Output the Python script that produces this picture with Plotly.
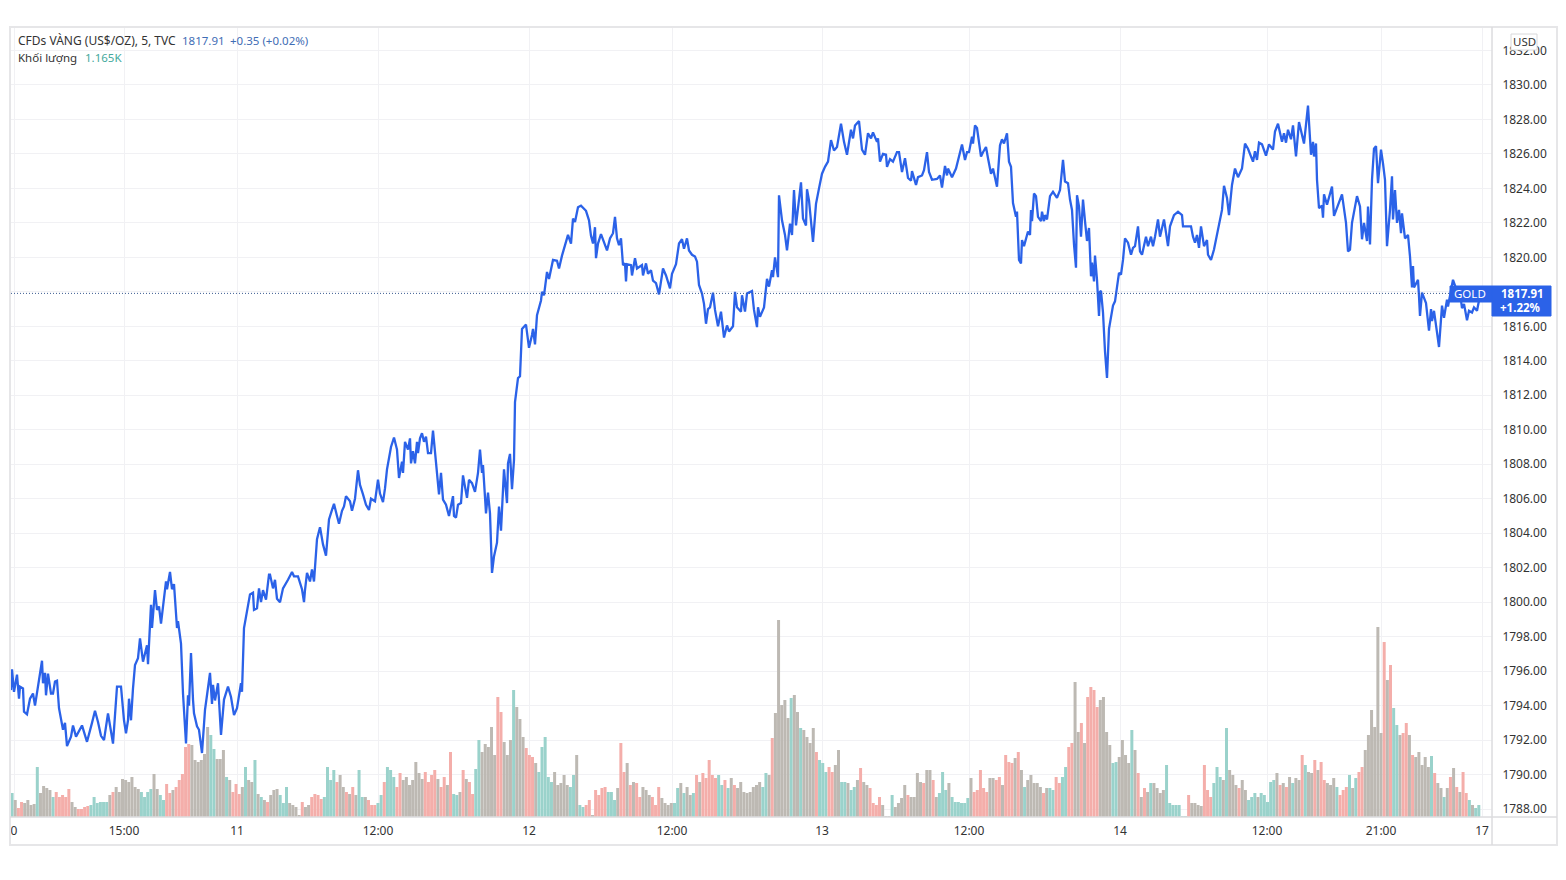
import plotly.graph_objects as go

# bar number on the 5 minute axis, and close price at that bar
bar_index = [
    0,1,3,6,8,9,12,13,16,19,22,24,31,32,34,35,37,40,42,44,46,48,52,54,56,60,62,65,71,76,81,84,87,90,93,97,102,104,106,110,
    113,115,117,118,120,122,124,127,129,132,136,137,140,141,144,146,148,150,155,156,159,161,163,166,167,170,172,175,177,178,
    180,182,183,186,188,191,194,196,199,201,202,204,207,210,213,217,220,223,226,230,231,233,236,239,242,243,246,248,250,252,255,258,
    259,262,264,266,269,272,277,281,283,287,291,293,294,296,299,301,303,306,309,312,315,318,321,323,326,328,331,333,335,339,341,344,
    347,349,352,355,358,360,364,367,369,372,374,376,380,383,386,388,391,392,394,397,399,400,402,404,406,407,409,411,413,415,417,420,
    422,424,427,428,430,432,435,438,442,443,445,447,450,452,456,458,461,464,467,469,471,472,475,477,479,481,483,486,488,490,493,496,
    497,499,501,503,504,507,509,511,515,518,521,522,524,526,530,
    531,533,536,538,542,546,548,551,555,557,560,562,564,567,570,575,578,580,582,584,585,587,590,593,596,599,602,604,606,608,610,612,
    614,615,616,620,621,624,626,631,632,635,637,640,642,645,648,652,655,659,661,665,668,671,673,676,678,681,684,686,688,691,693,695,
    697,699,702,704,707,710,713,716,718,722,724,726,730,731,734,736,741,743,746,747,749,753,756,758,761,762,764,767,768,771,774,776,
    779,781,783,785,790,792,795,796,798,802,805,808,811,814,817,820,823,826,830,833,836,840,842,844,848,851,854,857,860,862,866,867,
    869,872,875,876,879,882,886,888,891,894,897,900,901,905,907,911,913,916,918,921,926,929,931,934,936,937,941,945,951,954,956,958,
    961,962,964,966,970,972,975,977,980,982,986,
    989,991,993,996,998,1000,1002,1005,1006,1008,1010,1011,1013,1017,1019,1020,1021,1023,1025,1027,1030,1031,1033,1034,1036,1039,1042,1046,1049,1051,1052,1054,
    1057,1059,1061,1063,1065,1066,1068,1070,1072,1074,1076,1078,1080,1081,1083,1084,1086,1088,1089,1090,1092,1094,1096,1098,1100,1102,1104,1106,1108,1110,1112,1114,
    1117,1120,1122,1124,1127,1129,1131,1135,1137,1140,1142,1144,1147,1149,1153,1157,1159,1163,1167,1171,1172,1180,1182,1184,1186,1188,1190,1193,1196,1197,1200,1203,
    1206,1208,1211,1213,1216,1218,1220,1221,1224,1227,1231,1234,1237,1242,1244,1246,1248,1251,1255,1258,1262,1264,1267,1271,1273,1275,1277,1280,1282,1285,1288,1293,
    1297,1300,1302,1303,1305,1306,1308,1311,1312,1313,1316,1318,1321,1323,1326,1331,1335,1337,1339,1341,1346,1349,1351,1353,1356,1357,1359,1361,1363,1365,1367,1370,
    1372,1374,1376,1379,1381,1382,1384,1386,1388,1390,1391,1394,1397,1399,1401,1402,1403,1407,1408,1409,1411,1415,1418,1420,1421,1423,1426,1428,1431,1433,1436,1437,
    1440,1442,1445,1448,1450,1451,1453,1456,1458,1461,1463,1466,1468,1470,
]
gold_price = [
    1794.9,1796.1,1794.8,1795.8,1794.4,1795.1,1795,1793.65,1793.5,1794.4,1794.7,1794,1796.6,1795.3,1795.9,1794.6,1795.85,1794.7,1794.7,1795.4,1795.45,1793.85,1792.6,1793,1791.65,1792.2,1792.85,1792.2,1792.85,1791.9,1793,1793.7,1793.05,1792.25,1792,1793.55,1791.8,1793.45,1795.1,1795.1,
    1793.15,1792.4,1793.15,1794.4,1793.15,1795,1796.35,1796.75,1797.9,1796.55,1797.5,1796.4,1799.85,1798.5,1800.7,1799.55,1799.75,1798.75,1801.2,1800.75,1801.75,1800.75,1801.05,1798.5,1798.9,1797.6,1794.7,1791.8,1794.6,1794,
    1797.05,1794.35,1793.55,1792.8,1792.6,1791.25,1793.75,1794.6,1795.9,1794.1,1795.2,1794.3,1795.3,1792.3,1794.35,1795.1,1794.5,1793.45,1793.85,1795.3,1794.8,1798.5,1799.55,1800.45,1800.55,1799.55,1799.65,1800.8,1800,1800.7,1800.15,1801.6,
    1801.6,1800.8,1801.3,1800.2,1800,1800.8,1801.3,1801.75,1801.5,1801.5,1800.75,1800,1800.7,1801.7,1801.2,1801.9,1801.2,1803.65,1804.35,1803.35,1802.7,1804.8,1805.35,1805.7,1805,1804.55,1805.3,1805.55,1806.15,1805.85,1805.3,1806,
    1807.65,1806.8,1806.25,1805.65,1805.35,1806,1805.85,1807.1,1806.3,1805.8,1806.6,1807.7,1809,1809.55,1808.85,1807.2,1808.15,1807.5,1809.3,1808.85,1809.5,1808.05,1808.75,1808.05,1809.3,1808.65,1809.5,1809.8,1809.3,1809.6,1808.65,1808.65,
    1809.95,1808.85,1807.1,1806.25,1807.5,1805.95,1805.65,1805,1806.15,1805,1804.9,1805.65,1805.75,1807.35,1806.05,1807.1,1806.9,1806.4,1807.5,1808.85,1807.5,1807.95,1805.15,1806.35,1805.15,1801.7,1802.65,1803.45,1805.55,1804.15,1807.7,1805.75,
    1808.05,1808.6,1806.55,1808.25,1811.6,1813,1813.1,1815.85,1816.1,1814.75,1815.5,1815.85,1814.95,1816.65,1817.5,
    1818,1817.8,1819.15,1818.75,1819.85,1819.8,1819.35,1820.1,1820.9,1821.3,1820.8,1822.25,1822.05,1822.9,1823,1822.7,1822.15,1821.25,1820.8,1821.75,1819.95,1820.8,1821.35,1820.9,1820.4,1821.1,1821.4,1822.35,1821.1,1820.7,1821.1,1819.55,
    1819.65,1818.6,1819.6,1819.55,1818.95,1819.95,1819.35,1819.55,1818.95,1819.65,1819.05,1819.25,1818.65,1818.5,1817.85,1819.35,1818.95,1818.2,1819.05,1819.6,1820.8,1821.05,1820.5,1821.1,1820.4,1820.15,1820.05,1819.75,1818.4,1817.9,1817.3,1816.15,
    1817,1817.1,1817.95,1816.95,1816,1816.85,1815.35,1816.05,1815.7,1816,1818,1817.1,1816.85,1817.8,1816.85,1817.9,1818.05,1816.95,1815.95,1817.1,1816.55,1817.1,1818.75,1818.3,1819.25,1818.85,1820,1818.85,1823.6,1822.15,1821.3,1820.4,
    1821.95,1821.3,1823.9,1821.85,1824.35,1822.25,1821.85,1823.95,1823.3,1820.9,1823.1,1824,1824.85,1825.25,1825.55,1826.8,1826.2,1826.4,1827.75,1826.7,1825.95,1827.4,1826.9,1827.65,1827.9,1826.25,1825.95,1827.2,1826.9,1827.25,1826.7,1826.9,
    1825.55,1826,1825.95,1825.25,1825.7,1825.55,1826.1,1826.1,1824.95,1825.75,1824.6,1824.45,1825,1824.2,1824.65,1824.75,1825.05,1826.1,1824.95,1824.5,1824.55,1824.75,1824.05,1825.3,1824.75,1825.15,1824.65,1825.15,1826.55,1825.65,1826.1,1826.1,
    1827,1826.6,1827.65,1827.5,1825.85,1826.1,1826.4,1825.75,1824.85,1825.15,1824.1,
    1826.5,1826.85,1826.6,1827.2,1825.55,1825.25,1823.15,1822.35,1822.65,1819.85,1819.65,1821,1820.65,1821.5,1821.3,1822.75,1822.1,1823.7,1823.55,1822.35,1822.1,1822.65,1822.1,1822.45,1822.2,1823.55,1823.8,1823.45,1823.9,1824.9,1825.65,1824.4,
    1824.3,1823.35,1822.75,1820.75,1819.4,1823.6,1822.95,1821.2,1823.35,1822.1,1820.95,1821.7,1818.9,1819.7,1818.6,1820.1,1818.7,1816.6,1818,1818.05,1816.8,1814.55,1813,1815.85,1816.6,1817.2,1817.45,1818.4,1819.1,1819,1819.85,1821.1,
    1820.85,1820.15,1820.55,1820.65,1821.8,1820.35,1820.15,1821.2,1820.65,1821.2,1820.65,1821.2,1822.2,1821.2,1822.2,1820.65,1821.8,1822.45,1822.65,1822.45,1821.8,1821.8,1821.2,1820.85,1821.3,1820.55,1821.8,1820.65,1821,1820.15,1819.85,1820.45,
    1821.3,1821.8,1822.75,1824.15,1823.45,1822.45,1823.6,1824.2,1825.15,1824.65,1825.15,1826.6,1826.3,1825.55,1826.15,1825.65,1826.65,1826.55,1825.9,1826.55,1826.25,1827.3,1827.75,1826.7,1827.2,1826.65,1827.4,1826.85,1827.65,1825.85,1827.85,1826.6,
    1828.8,1825.95,1826.7,1825.85,1826.6,1824.5,1822.85,1823,1822.3,1823.65,1823.05,1823.5,1824.1,1822.4,1822.85,1823.65,1822,1820.35,1820.45,1822,1823.55,1822.95,1821.05,1822,1820.95,1822.95,1820.75,1824.5,1826.3,1826.45,1824.3,1826.25,
    1825.45,1824.5,1820.65,1822.75,1824.7,1822.2,1823.9,1822,1822.75,1821.4,1822.55,1821.1,1821.3,1820.05,1818.25,1819.5,1818.25,1818.7,1817.75,1816.6,1817.95,1817.35,1815.75,1817,1816.3,1816.9,1815.65,1814.8,1817.2,1816.5,1817.55,1817.15,
    1818.1,1818.7,1818.2,1817.9,1817.5,1817.05,1817.3,1816.35,1816.9,1816.8,1817.1,1816.9,1817.5,1817.91,
]

# volume in thousands, seven bars to a block of the picture
volume_k = [
    2.4,1.7,0.9,1.5,1.4,1.7,1.2, 1.3,5.0,2.4,3.1,2.9,2.7,2.0, 2.5,2.0,2.2,2.0,2.8,1.5,1.0, 0.8,0.8,1.0,1.1,1.2,2.0,1.4,
    1.5,1.5,1.5,2.2,2.5,3.0,2.5, 3.8,3.7,3.5,4.0,3.0,2.8,2.5, 2.0,2.5,2.8,4.3,2.8,2.2,1.7, 3.3,2.4,2.7,3.0,3.7,4.3,7.0,
    7.3,7.2,5.7,5.5,5.7,6.3,9.0, 8.2,6.8,5.8,5.8,6.7,4.0,3.7, 2.5,3.3,2.3,3.0,5.0,3.7,3.5, 5.7,2.3,2.0,1.7,1.5,2.2,2.7,
    2.8,2.2,1.4,3.0,1.4,1.2,1.0, 0.2,1.5,1.0,1.2,2.0,2.3,2.2, 1.8,2.0,5.0,3.7,4.7,3.5,4.2, 3.0,2.5,2.3,3.0,2.2,4.7,2.0,
    2.0,1.7,1.2,1.2,1.4,2.2,3.5, 5.0,4.7,4.0,3.0,4.4,3.7,4.0, 3.2,3.7,5.5,4.4,3.8,4.5,3.5, 4.2,4.7,3.8,3.0,4.0,3.2,6.5,
    2.3,2.2,2.5,4.7,3.8,3.5,2.3, 4.8,7.7,6.5,7.3,7.0,9.0,6.2, 12.0,10.5,7.5,6.2,7.7,12.7,11.0, 9.8,8.0,6.9,6.2,6.0,5.4,4.5,
    7.0,8.0,4.0,3.5,4.5,3.2,3.4, 4.2,3.2,3.0,4.2,6.2,1.2,1.0, 1.2,1.7,0.2,2.7,2.2,2.9,3.0, 2.5,2.5,1.7,2.9,7.4,4.5,5.4,
    3.2,3.5,3.4,2.0,3.0,2.7,2.2, 2.0,1.2,3.0,1.9,1.4,1.2,1.4, 1.4,2.9,3.4,2.4,3.0,2.2,2.4, 4.2,3.5,4.4,3.9,5.7,4.2,3.9,
    4.2,3.2,3.7,2.9,3.9,3.2,2.9, 3.5,2.5,2.4,2.5,3.0,3.2,3.5, 3.0,4.4,4.2,7.9,10.4,19.7,11.2, 11.7,9.9,11.9,12.2,10.5,8.9,8.7,
    8.0,7.4,8.9,6.5,5.7,5.4,4.5, 5.0,4.5,5.2,6.7,3.5,3.5,3.4, 2.7,3.0,3.7,4.9,3.5,3.2,2.9, 1.4,1.2,2.0,1.2,0.1,0.1,2.2,
    1.0,1.4,1.9,3.2,2.2,2.0,2.0, 4.4,3.5,3.4,4.7,4.7,3.7,2.0, 2.4,4.5,2.7,3.4,2.0,1.5,1.5, 1.4,1.4,1.9,3.9,2.5,2.7,4.7,
    2.9,2.5,3.9,3.9,3.7,4.0,3.2, 6.2,5.5,5.4,5.9,6.5,4.7,3.0, 3.7,4.2,3.4,3.4,3.0,2.4,2.9, 2.9,2.7,4.0,3.4,4.0,5.0,7.0,
    7.4,13.5,8.5,9.4,7.4,12.0,13.0, 12.7,11.0,11.7,12.0,8.5,7.2,5.4, 5.5,6.0,7.7,6.2,5.4,8.7,6.7, 4.4,2.0,2.9,2.5,3.4,3.4,2.9,
    2.4,2.7,5.2,1.4,1.2,1.2,1.2, 0.1,0.1,2.2,1.4,1.4,1.2,1.1, 5.2,2.7,2.0,3.4,5.0,4.0,3.7, 8.9,4.7,4.2,3.2,2.9,3.7,2.7,
    1.7,2.0,2.4,2.0,2.4,2.2,1.5, 3.5,3.7,4.4,3.2,3.4,3.0,4.0, 3.4,3.9,3.7,6.2,5.2,4.5,4.4, 5.7,4.7,5.5,3.7,3.4,3.2,3.9,
    3.0,2.2,2.7,3.0,4.2,2.9,3.9, 4.5,5.0,6.7,8.2,10.7,9.0,19.0, 8.4,17.5,13.7,15.2,10.9,9.2,8.2, 8.4,9.4,8.2,6.2,6.0,6.5,5.2,
    6.0,5.0,6.1,4.4,3.4,2.9,2.0, 2.9,4.0,4.9,3.0,2.5,4.5,2.4, 1.7,1.2,0.9,1.2,
]
# t = mostly up bars, r = mostly down bars, g = both overlapped
volume_tone = (
    "tgrrggg" "gtggggt" "rrrrrgg" "rrrrttt" "tttgrgg" "ggggggt" "tttggtt" "rrgrrrr"
    "rgggggg" "ttgggtg" "rrrgtgg" "tgtgrgg" "gtttggg" "grggrrr" "rttttrg" "grgrgtt"
    "grrrttr" "tttrrgg" "gggggrr" "rrgrrgr" "ttgrgrr" "ttggggg" "rrgggtg" "ggrrrgt"
    "ttttggg" "ggttgtt" "rrgrrrr" "tttgrrg" "rgrrggg" "rrrgggg" "ttgtggt" "rgrrrrr"
    "ttrtgrg" "ggggggg" "ttgrggg" "ggtggtg" "gggrttt" "rrggttg" "ttgrggr" "rrrgggt"
    "ggggrgg" "ggrggrg" "tttgttt" "tttgrrr" "rrggrrg" "rrrgrgt" "gggggrg" "ttrrttr"
    "rggrgrr" "rrggggt" "tggggtg" "rgrgtgg" "ggttttt" "ttrgggg" "rrrtttg" "tgggrgg"
    "tttgttt" "ttgrgrg" "tggrtgg" "rgrrggg" "trrrtgt" "rrggggg" "grgrttg" "rrgrggg"
    "ggtrggt" "grgrgrr" "tgtt"
)
time_ticks = [3, 113, 226, 367, 518, 661, 811, 958, 1109, 1256, 1370, 1471]
time_labels = ["0", "15:00", "11", "12:00", "12", "12:00", "13", "12:00", "14", "12:00", "21:00", "17"]
price_ticks = list(range(1788, 1834, 2))
last_price = 1817.91

BLUE = "#2b62e8"
GRID = "#f1f1f4"
EDGE = "#e6e6e8"
FONT = "Noto Sans"
TONES = {"t": "#9ad2cb", "r": "#f4aeaa", "g": "#bdb9b3"}

W, H = 1566, 880
L, R, T, B = 11, 1492, 27, 817


def px_x(x):
    return (x - L) / (R - L)


def px_y(y):
    return (B - y) / (B - T)


bar_step = 22.08 / 7
vol_x = [(i + 0.5) * bar_step - 0.5 for i in range(len(volume_k))]

fig = go.Figure()
fig.add_trace(go.Bar(
    x=vol_x, y=volume_k, width=3,
    marker=dict(color=[TONES[c] for c in volume_tone], line=dict(width=0)),
    yaxis="y", hoverinfo="skip",
))
fig.add_trace(go.Scatter(
    x=bar_index, y=gold_price, mode="lines",
    line=dict(color=BLUE, width=2.3), yaxis="y2", hoverinfo="skip",
))


def box(x0, y0, x1, y1, fill="rgba(0,0,0,0)", line=None, width=1):
    return dict(type="rect", xref="paper", yref="paper", x0=px_x(x0), x1=px_x(x1), y0=px_y(y0), y1=px_y(y1),
                fillcolor=fill, line=dict(color=line or fill, width=width), layer="above")


def label(x, y, text, color="#333333", size=12, anchor="left"):
    return dict(xref="paper", yref="paper", x=px_x(x), y=px_y(y), text=text, showarrow=False,
                xanchor=anchor, yanchor="middle", font=dict(family=FONT, size=size, color=color),
                borderpad=0, align=anchor)


shapes = [
    box(10, 27, 1557, 845, line=EDGE, width=2),
    box(R, T, R, 845, line="#dcdcde", width=1),
    box(10, B, 1557, B, line="#dcdcde", width=1),
    dict(type="line", xref="paper", yref="y2", x0=0, x1=1, y0=last_price, y1=last_price,
         line=dict(color="#3a5a90", width=1, dash="1px,2px")),
    box(1450, 286, R, 302, fill=BLUE),
    box(R, 286, 1551, 316, fill=BLUE),
    box(1511, 34, 1537, 50, fill="white", line="#d8d8da"),
]
annotations = [
    label(17, 41, "CFDs VÀNG (US$/OZ), 5, TVC", size=12),
    label(181, 41, "1817.91", color="#3f6db5", size=11.5),
    label(229, 41, "+0.35 (+0.02%)", color="#3f6db5", size=11.5),
    label(17, 58, "Khối lượng", size=11.5),
    label(84, 58, "1.165K", color="#45a99c", size=11.5),
    label(1524, 42, "USD", size=11.5, anchor="center"),
    label(1470, 293, "GOLD", color="white", size=11.5, anchor="center"),
    label(1522, 293, "<b>1817.91</b>", color="white", size=11.5, anchor="center"),
    label(1520, 307, "<b>+1.22%</b>", color="white", size=11.5, anchor="center"),
]

fig.update_layout(
    width=W, height=H,
    margin=dict(l=L, r=W - R, t=T, b=H - B, pad=0),
    paper_bgcolor="white", plot_bgcolor="white",
    showlegend=False,
    font=dict(family=FONT, size=12, color="#333333"),
    shapes=shapes, annotations=annotations,
    xaxis=dict(
        range=[0, R - L], tickmode="array", tickvals=time_ticks, ticktext=time_labels,
        showgrid=True, gridcolor=GRID, gridwidth=1, zeroline=False, showline=False,
        ticks="outside", ticklen=3, tickcolor="white",
        tickfont=dict(family=FONT, size=12, color="#333333"),
    ),
    yaxis=dict(range=[0, 79], visible=False, showgrid=False, zeroline=False),
    yaxis2=dict(
        overlaying="y", side="right", range=[1787.54, 1833.36],
        tickmode="array", tickvals=price_ticks, ticktext=[f"{p:.2f}" for p in price_ticks],
        showgrid=True, gridcolor=GRID, gridwidth=1, zeroline=False, showline=False,
        ticks="outside", ticklen=7, tickcolor="white",
        tickfont=dict(family=FONT, size=12, color="#333333"),
    ),
)

fig.write_html("out.html", config=dict(displayModeBar=False), post_script="document.body.style.margin='0';")
